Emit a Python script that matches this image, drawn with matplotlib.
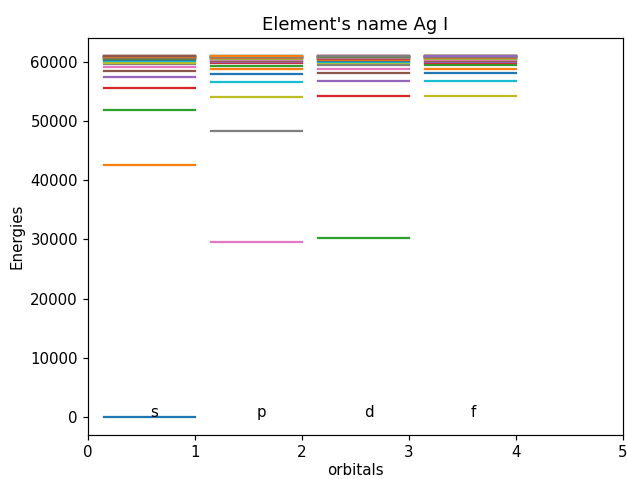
import matplotlib
matplotlib.use("Agg")
import matplotlib.pyplot as plt

# Ag I energy levels (cm-1) per orbital
orbitals = ["s", "p", "d", "f"]

s_levels = [0, 42556, 51887, 55581, 57424, 58474, 59134, 59573, 59880, 60103,
            60270, 60399, 60500, 60581, 60647, 60701, 60746, 60784, 60816, 60844,
            60868, 60888, 60907, 60923, 60937, 60949]
p_levels = [29552, 48297, 54041, 56628, 58006, 58834, 59370, 59736, 59998, 60191,
            60338, 60452, 60542, 60615, 60675, 60724, 60765, 60800, 60830, 60856,
            60878, 60898, 60915, 60930, 60943, 60955]
d_levels = [30242, 54203, 56694, 58045, 58858, 59386, 59747, 60006, 60197, 60342,
            60455, 60545, 60617, 60677, 60726, 60767, 60802, 60831, 60857, 60879,
            60898, 60915, 60930, 60944, 60955, 60966]
f_levels = [54210, 56700, 58058, 58866, 59391, 59751, 60009, 60199, 60344, 60457,
            60546, 60618, 60677, 60726, 60767, 60802, 60832, 60857, 60879, 60899,
            60915, 60930, 60944, 60955, 60966, 60976, 60984]

levels = [s_levels, p_levels, d_levels, f_levels]

scale = 1.078  # reference was rendered a bit bigger than 100 dpi

fig = plt.figure(figsize=(6.27, 4.79), dpi=100)
ax = fig.add_axes([0.1404, 0.0919, 0.8532, 0.8288])

for i, (name, energies) in enumerate(zip(orbitals, levels)):
    for e in energies:
        ax.plot([i + 0.15, i + 1], [e, e], linewidth=1.5 * scale)
    ax.text(i + 0.58, 0, name, fontsize=10 * scale)

ax.set_xlim(0, 5)
ax.set_title("Element's name Ag I", fontsize=12 * scale)
ax.set_xlabel("orbitals", fontsize=10 * scale, labelpad=2)
ax.set_ylabel("Energies", fontsize=10 * scale)
ax.tick_params(labelsize=10 * scale, width=0.8 * scale, length=3.5 * scale)
for sp in ax.spines.values():
    sp.set_linewidth(0.8 * scale)

fig.savefig("out.png", dpi=100)
